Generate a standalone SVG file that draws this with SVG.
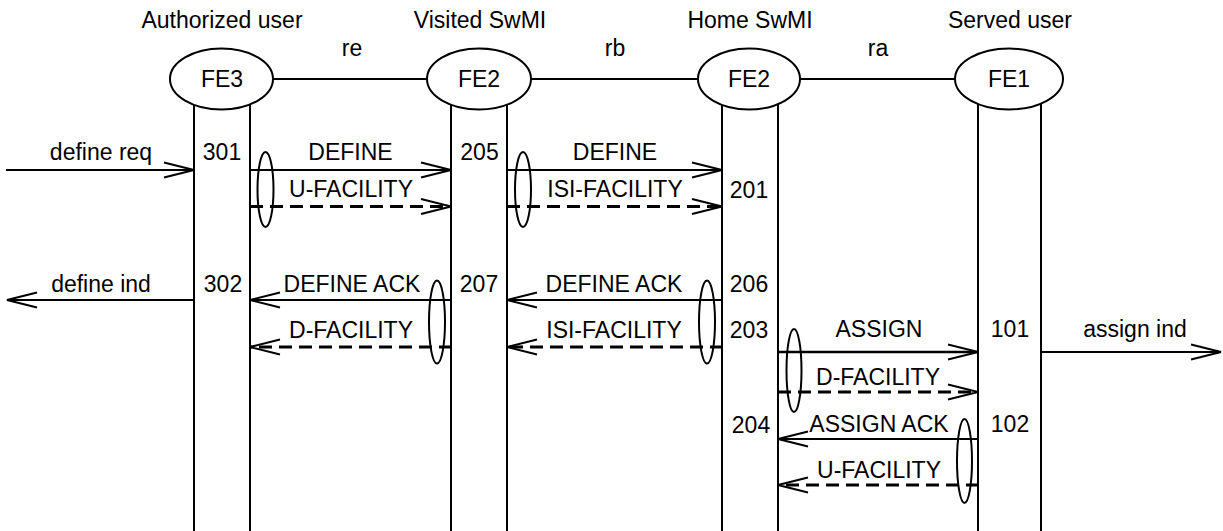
<svg xmlns="http://www.w3.org/2000/svg" width="1223" height="531" viewBox="0 0 1223 531">
<style>
text{font-family:"Liberation Sans",Arial,sans-serif;font-size:23px;fill:#000;text-anchor:middle}
.life{stroke:#000;stroke-width:2;fill:none}
.fe{stroke:#000;stroke-width:2;fill:#fff}
.iface{stroke:#000;stroke-width:2}
.msg{stroke:#000;stroke-width:2;fill:none;marker-end:url(#ah)}
.dash{stroke:#000;stroke-width:3;fill:none;stroke-dasharray:13 7;marker-end:url(#ah)}
.grp{stroke:#000;stroke-width:2;fill:none}
</style>
<defs>
<marker id="ah" viewBox="-32 -10 34 20" markerWidth="34" markerHeight="20" refX="0" refY="0" orient="auto" markerUnits="userSpaceOnUse">
<path d="M-30,-7.5 L0,0 L-30,7.5" fill="none" stroke="#000" stroke-width="2" stroke-dasharray="none"/>
</marker>
</defs>
<rect width="1223" height="531" fill="#fff"/>
<g id="interfaces">
<line class="iface" x1="273" y1="79" x2="427" y2="79"/>
<line class="iface" x1="531" y1="79" x2="698" y2="79"/>
<line class="iface" x1="800" y1="79" x2="955" y2="79"/>
<text x="352" y="56">re</text>
<text x="615" y="56">rb</text>
<text x="878" y="56">ra</text>
</g>
<g id="fe3">
<text x="222" y="28">Authorized user</text>
<line class="life" x1="194" y1="90" x2="194" y2="531"/>
<line class="life" x1="250" y1="90" x2="250" y2="531"/>
<ellipse class="fe" cx="221.5" cy="79" rx="51.5" ry="30.5"/>
<text x="222" y="87">FE3</text>
</g>
<g id="fe2v">
<text x="480" y="28">Visited SwMI</text>
<line class="life" x1="451" y1="90" x2="451" y2="531"/>
<line class="life" x1="507" y1="90" x2="507" y2="531"/>
<ellipse class="fe" cx="479" cy="79" rx="52" ry="30.5"/>
<text x="479" y="87">FE2</text>
</g>
<g id="fe2h">
<text x="750" y="28">Home SwMI</text>
<line class="life" x1="722" y1="90" x2="722" y2="531"/>
<line class="life" x1="778" y1="90" x2="778" y2="531"/>
<ellipse class="fe" cx="749" cy="79" rx="51" ry="30.5"/>
<text x="749" y="87">FE2</text>
</g>
<g id="fe1">
<text x="1010" y="28">Served user</text>
<line class="life" x1="978" y1="90" x2="978" y2="531"/>
<line class="life" x1="1041" y1="90" x2="1041" y2="531"/>
<ellipse class="fe" cx="1009" cy="79" rx="54" ry="30.5"/>
<text x="1009" y="87">FE1</text>
</g>
<g id="labels">
<text x="222" y="160">301</text>
<text x="479.5" y="160">205</text>
<text x="749" y="198">201</text>
<text x="223" y="292">302</text>
<text x="479" y="292">207</text>
<text x="749" y="292">206</text>
<text x="749" y="338">203</text>
<text x="1010" y="337">101</text>
<text x="751" y="433">204</text>
<text x="1010" y="432">102</text>
</g>
<g id="connectors">
<line class="msg" x1="6" y1="170" x2="194" y2="170"/>
<text x="101" y="160">define req</text>
<line class="msg" x1="250" y1="170" x2="451" y2="170"/>
<text x="350.5" y="160">DEFINE</text>
<line class="dash" x1="250" y1="206.5" x2="451" y2="206.5"/>
<text x="351" y="197">U-FACILITY</text>
<ellipse class="grp" cx="265.5" cy="189.5" rx="8" ry="37.5"/>
<line class="msg" x1="507" y1="170" x2="722" y2="170"/>
<text x="615" y="160">DEFINE</text>
<line class="dash" x1="507" y1="206.5" x2="722" y2="206.5"/>
<text x="615" y="197">ISI-FACILITY</text>
<ellipse class="grp" cx="523" cy="189.5" rx="8" ry="37.5"/>

<line class="msg" x1="194" y1="300" x2="7" y2="300"/>
<text x="101" y="292">define ind</text>
<line class="msg" x1="451" y1="300" x2="250" y2="300"/>
<text x="352" y="292">DEFINE ACK</text>
<line class="dash" x1="452" y1="347" x2="250" y2="347"/>
<text x="351" y="338">D-FACILITY</text>
<ellipse class="grp" cx="437" cy="322" rx="8" ry="41.5"/>
<line class="msg" x1="722" y1="300" x2="507" y2="300"/>
<text x="614" y="292">DEFINE ACK</text>
<line class="dash" x1="723" y1="347" x2="507" y2="347"/>
<text x="614" y="338">ISI-FACILITY</text>
<ellipse class="grp" cx="707" cy="322" rx="8" ry="41.5"/>

<line class="msg" x1="778" y1="352" x2="978" y2="352" style="stroke-width:2.5"/>
<text x="879" y="337">ASSIGN</text>
<line class="dash" x1="778" y1="392" x2="978" y2="392"/>
<text x="878" y="385">D-FACILITY</text>
<ellipse class="grp" cx="794" cy="370.5" rx="7.5" ry="41.5"/>
<line class="msg" x1="1041" y1="352" x2="1221" y2="352"/>
<text x="1135" y="337">assign ind</text>
<line class="msg" x1="978" y1="439" x2="778" y2="439"/>
<text x="879" y="432">ASSIGN ACK</text>
<line class="dash" x1="979" y1="485" x2="778" y2="485"/>
<text x="879" y="478">U-FACILITY</text>
<ellipse class="grp" cx="964.5" cy="461" rx="7.5" ry="42"/>
</g>
</svg>
